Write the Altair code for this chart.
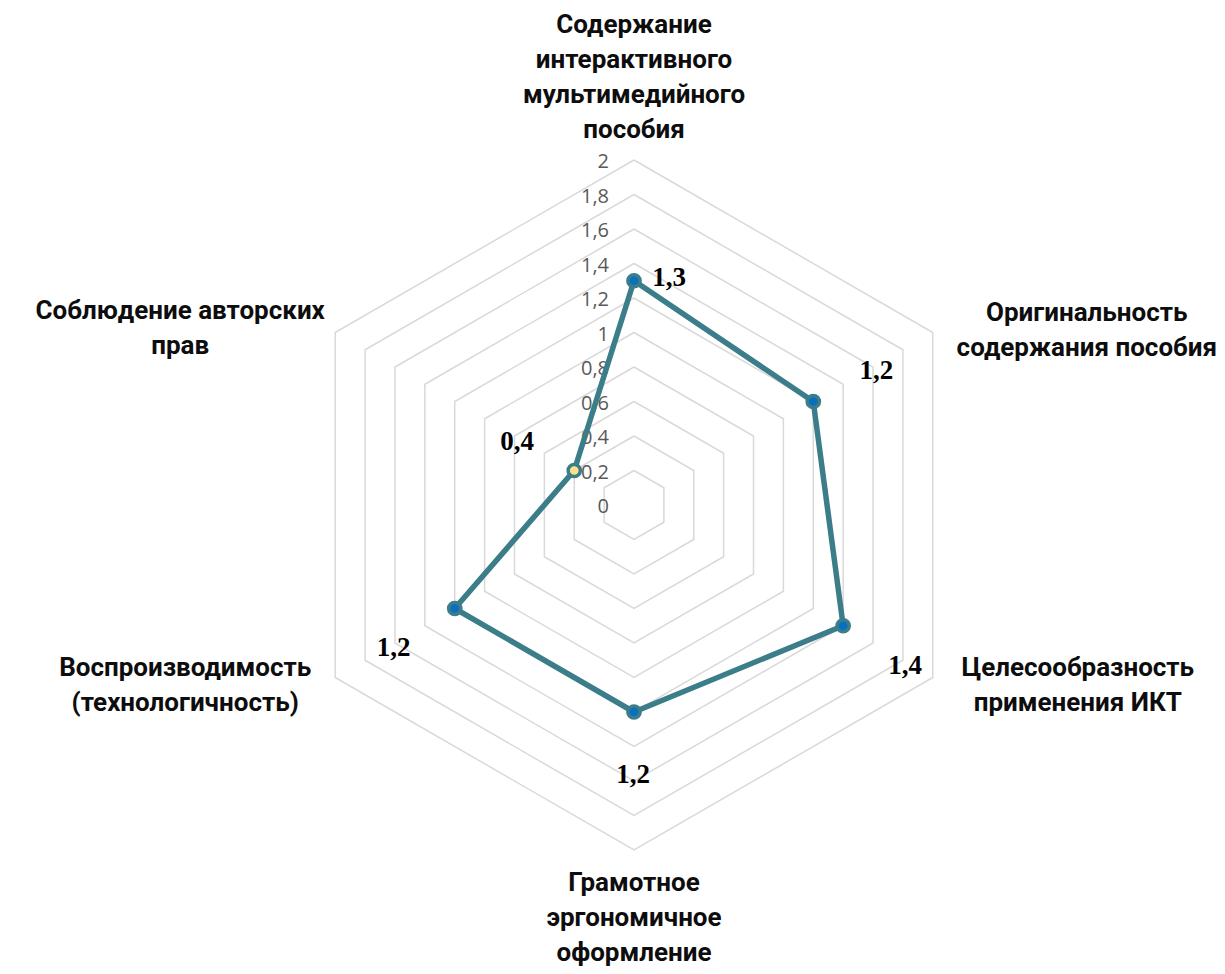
import altair as alt
import pandas as pd

# ---------------- data ----------------
categories = [
    "Содержание\nинтерактивного\nмультимедийного\nпособия",
    "Оригинальность\nсодержания пособия",
    "Целесообразность\nприменения ИКТ",
    "Грамотное\nэргономичное\nоформление",
    "Воспроизводимость\n(технологичность)",
    "Соблюдение авторских\nправ",
]
values = [1.3, 1.2, 1.4, 1.2, 1.2, 0.4]
value_labels = ["1,3", "1,2", "1,4", "1,2", "1,2", "0,4"]
tick_values = [0, 0.2, 0.4, 0.6, 0.8, 1.0, 1.2, 1.4, 1.6, 1.8, 2.0]
tick_labels = ["0", "0,2", "0,4", "0,6", "0,8", "1", "1,2", "1,4", "1,6", "1,8", "2"]
axis_max = 2.0

n = len(categories)

# ---------------- tables ----------------
series_df = pd.DataFrame({
    "idx": list(range(n)) + [n],
    "value": values + [values[0]],
    "cat": categories + [categories[0]],
    "vlabel": value_labels + [value_labels[0]],
})
grid_rows = []
for lv in tick_values[1:]:
    for k in range(n + 1):
        grid_rows.append({"level": lv, "idx": k})
grid_df = pd.DataFrame(grid_rows)
tick_df = pd.DataFrame({"tv": tick_values, "tl": tick_labels})

# ---------------- scales ----------------
PX_PER_UNIT = 172.5
CX, CY = 634, 505
W, H = 1209, 958
x_dom = [(8 - CX) / PX_PER_UNIT, (8 + W - CX) / PX_PER_UNIT]
y_dom = [(CY - 8 - H) / PX_PER_UNIT, (CY - 8) / PX_PER_UNIT]
xs = alt.Scale(domain=x_dom, nice=False, zero=False)
ys = alt.Scale(domain=y_dom, nice=False, zero=False)

ang = f"PI/2 - datum.idx*2*PI/{n}"

TEAL = "#3b7d89"
LABEL_FONT = "Roboto, 'Open Sans', sans-serif"

grid = alt.Chart(grid_df).transform_calculate(
    a=ang
).transform_calculate(
    gx="datum.level*cos(datum.a)", gy="datum.level*sin(datum.a)"
).mark_line(color="#d9d9d9", strokeWidth=1.5).encode(
    x=alt.X("gx:Q", scale=xs, axis=None),
    y=alt.Y("gy:Q", scale=ys, axis=None),
    detail="level:N",
    order="idx:Q",
)

ticks = alt.Chart(tick_df).transform_calculate(zx="0").mark_text(
    align="right", baseline="middle", dx=-25, dy=2,
    font="'Open Sans', sans-serif", fontSize=20, color="#595959"
).encode(
    x=alt.X("zx:Q", scale=xs, axis=None),
    y=alt.Y("tv:Q", scale=ys, axis=None),
    text="tl:N",
)

base = alt.Chart(series_df).transform_calculate(
    a=ang
).transform_calculate(
    px="datum.value*cos(datum.a)", py="datum.value*sin(datum.a)",
    lx=f"{axis_max}*cos(datum.a)", ly=f"{axis_max}*sin(datum.a)",
)

line = base.mark_line(color=TEAL, strokeWidth=5.5, strokeJoin="round").encode(
    x=alt.X("px:Q", scale=xs, axis=None),
    y=alt.Y("py:Q", scale=ys, axis=None),
    order="idx:Q",
)

points = base.transform_filter(f"datum.idx < {n}").mark_point(
    shape="circle", filled=True, size=150, stroke=TEAL, strokeWidth=3.5,
    opacity=1, fillOpacity=1, strokeOpacity=1
).encode(
    x=alt.X("px:Q", scale=xs, axis=None),
    y=alt.Y("py:Q", scale=ys, axis=None),
    fill=alt.condition(f"datum.idx == {n-1}", alt.value("#fde28a"), alt.value("#0a6fbf")),
)

# value label offsets (pixels, style only)
vl_off = [(35, -3), (63, -31), (62, 40), (-1, 63), (-61, 39), (-57, -29)]
vlayers = []
for i, (dx, dy) in enumerate(vl_off):
    vlayers.append(
        base.transform_filter(f"datum.idx == {i}").mark_text(
            align="center", baseline="middle", dx=dx, dy=dy,
            font="'Liberation Serif', 'Times New Roman', serif",
            fontSize=27, fontWeight="bold", color="#000000"
        ).encode(
            x=alt.X("px:Q", scale=xs, axis=None),
            y=alt.Y("py:Q", scale=ys, axis=None),
            text="vlabel:N",
        )
    )

# category label offsets from outer vertex (pixels, first line centre; style only)
cl_off = [(0, -135), (154, -20), (145, -10), (0, 33), (-150, -10), (-155, -22)]
clayers = []
for i, (dx, dy) in enumerate(cl_off):
    clayers.append(
        base.transform_filter(f"datum.idx == {i}").mark_text(
            align="center", baseline="middle", dx=dx, dy=dy,
            lineBreak="\n", lineHeight=35,
            font=LABEL_FONT, fontSize=26, fontWeight="bold", color="#0d0d0d"
        ).encode(
            x=alt.X("lx:Q", scale=xs, axis=None),
            y=alt.Y("ly:Q", scale=ys, axis=None),
            text="cat:N",
        )
    )

chart = alt.layer(grid, ticks, line, points, *vlayers, *clayers).properties(
    width=W, height=H, padding=0,
    autosize=alt.AutoSizeParams(type="none"),
).configure_view(stroke=None)

chart.save("out.html", embed_options={"renderer": "svg", "actions": False})
